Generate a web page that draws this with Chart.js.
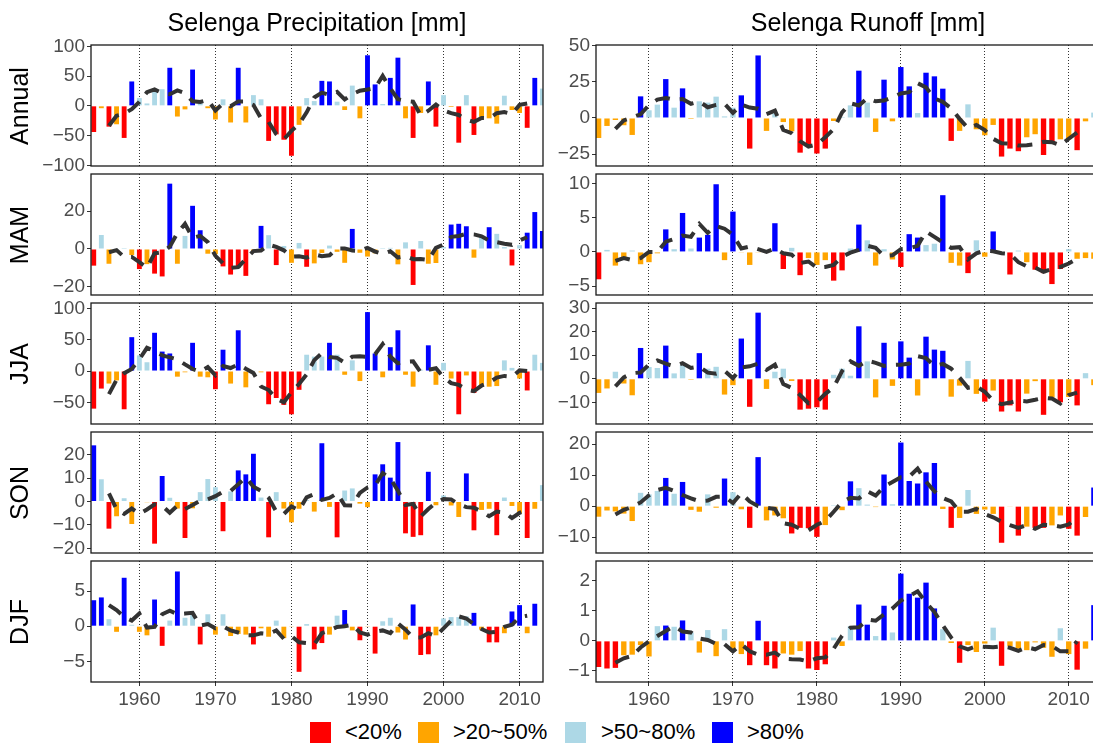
<!DOCTYPE html>
<html><head><meta charset="utf-8">
<script src="https://cdn.jsdelivr.net/npm/chart.js@4.4.1/dist/chart.umd.min.js"></script>
<style>
html,body{margin:0;padding:0;width:1093px;height:745px;overflow:hidden;background:#fff;font-family:"Liberation Sans",Arial,sans-serif;position:relative;}
canvas{position:absolute;}
.title{position:absolute;font-size:25px;color:#000;white-space:nowrap;transform:translate(-50%,-50%);}
.strip{position:absolute;font-size:25px;color:#000;white-space:nowrap;transform:translate(-50%,-50%) rotate(-90deg);}
.leg{position:absolute;top:722px;width:21px;height:21px;}
.legt{position:absolute;top:732px;transform:translateY(-50%);font-size:22px;color:#000;white-space:nowrap;}
</style></head><body>
<script>
// ---------------- data ----------------
const years = [1954,1955,1956,1957,1958,1959,1960,1961,1962,1963,1964,1965,1966,1967,1968,1969,1970,1971,1972,1973,1974,1975,1976,1977,1978,1979,1980,1981,1982,1983,1984,1985,1986,1987,1988,1989,1990,1991,1992,1993,1994,1995,1996,1997,1998,1999,2000,2001,2002,2003,2004,2005,2006,2007,2008,2009,2010,2011,2012,2013];
const maYears = [1956,1957,1958,1959,1960,1961,1962,1963,1964,1965,1966,1967,1968,1969,1970,1971,1972,1973,1974,1975,1976,1977,1978,1979,1980,1981,1982,1983,1984,1985,1986,1987,1988,1989,1990,1991,1992,1993,1994,1995,1996,1997,1998,1999,2000,2001,2002,2003,2004,2005,2006,2007,2008,2009,2010,2011];
const xTicks = [1960,1970,1980,1990,2000,2010];
const classLabels = ['<20%','>20~50%','>50~80%','>80%'];
const classColors = ['#FF0000','#FFA500','#ADD8E6','#0000FF'];
const columnTitles = ['Selenga Precipitation [mm]','Selenga Runoff [mm]'];
const rowTitles = ['Annual','MAM','JJA','SON','DJF'];

// class codes: 0 <20%, 1 >20~50%, 2 >50~80%, 3 >80%
const precAnnual = [-44,-4,-35,-31,-54,41,13,4,29,28,64,-18,-6,61,5,-4,-23,11,-28,64,-28,18,11,-59,-48,-57,-84,-32,13,8,42,41,7,-7,34,-21,85,36,3,47,81,-21,-54,-12,41,-35,18,-2,-62,18,-49,-21,-21,-30,17,-7,-12,-37,47,29];
const precAnnualCls = [0,1,0,1,0,3,2,2,2,2,3,1,1,3,2,1,1,2,1,3,1,2,2,0,0,0,0,1,2,2,3,3,2,1,2,1,3,3,2,3,3,1,0,1,3,0,2,1,0,2,0,1,1,1,2,1,1,0,3,2];
const precAnnualMA = [-33.6,-16.6,-13.2,-5.6,6.6,23,27.6,21.4,19.4,25.8,21.2,7.6,6.6,10,-7.8,4,-0.8,7.4,7.4,1.2,-21.2,-27,-47.4,-56.4,-42,-30.8,-11,14,22.2,18.2,23.4,10.8,19.6,25.4,27.4,30,50.4,29.2,11.2,8.2,7,-16,-8.2,2.2,-7.8,-12.4,-15.4,-23.2,-27,-20.6,-20.8,-12.4,-10.6,-13.8,1.6,4];

const precMAM = [-8.8,7.4,-7.8,0.3,0.5,-3.2,-10.6,-8,-13,-14.5,34.5,-7.8,6.9,22.8,9.9,-2.5,-2.8,-9.2,-13.5,-10,-14.2,-1,12.2,7.3,-8.5,1.6,-7.3,3.2,-9.4,-7.6,-2.1,1.8,-1.5,-7.3,10.6,-2,-4,-2.3,0.5,0.6,-8.1,3.5,-19,4.2,-7.8,-7.4,1,12.9,13.3,12,-4.6,6.2,11.5,8,1,-8.7,2,8.6,19.5,9.5];
const precMAMCls = [0,2,1,2,2,1,0,1,0,0,3,1,2,3,3,1,1,0,0,0,0,1,3,2,0,2,1,2,0,1,1,2,1,1,3,1,1,1,2,2,1,2,0,2,1,1,2,3,3,3,1,2,3,2,2,0,2,3,3,3];
const precMAMMA = [-1.7,-0.6,-4.2,-4.2,-6.9,-9.9,-2.3,-1.8,1.2,8.4,13.3,5.9,6.9,3.6,-3.6,-7.6,-9.9,-9.6,-5.3,-1.1,-0.8,2.3,1.1,-0.7,-4.1,-3.9,-4.6,-2.8,-3.8,-3.3,0.3,0.3,-0.8,-1,0.6,-1.4,-2.7,-1.2,-4.5,-3.8,-5.4,-5.3,-5.8,0.6,2.4,6.4,6.9,8,7.7,6.7,4.5,3.6,2.8,2.2,4.5,6.2];

const precJJA = [-60,-28,-20,-15,-61,54,25,14,61,31,28,-9,-2,45,-9,-10,-29,34,-20,65,-26,0.5,-2,-53,-43,-54,-69,-30,26,23,23,45,26,-6,17,-16,94,28,-10,38,65,-6,-25,2,41,-22,13,-12,-69,-7,-35,-25,-25,-24,17,5,-12,-31,26,13];
const precJJACls = [0,0,1,1,0,3,2,2,3,3,3,1,1,3,1,1,0,3,1,3,1,2,1,0,0,0,0,0,2,2,2,3,2,1,2,1,3,3,1,3,3,1,1,2,3,1,2,1,0,1,0,1,1,1,2,2,1,0,2,2];
const precJJAMA = [-36.8,-14,-3.4,3.4,18.6,37,31.8,25,21.8,18.6,10.6,3.2,-1,6.2,-6.8,8,4.8,10.7,3.5,-3.1,-24.7,-30.3,-44.2,-49.8,-34,-20.8,-5.4,17.4,28.6,22.2,21,13.2,23,23.4,22.6,26.8,43,23,12.4,14.8,15.4,-2,1.8,4.4,-9.8,-19.4,-22,-29.6,-32.2,-23.2,-18.4,-10.4,-7.8,-9,1,0.2];

const precSON = [24,9.5,-11.6,-6.3,1.4,-9.6,-0.2,-0.3,-18,10.9,1.6,-3,-15.6,-2.9,4,9.6,6.1,-12.7,4.3,13.3,11.6,20.4,1.7,-15.3,4,-3,-8.9,-3.1,0.6,-4.3,24.9,-2.3,-15.3,4.7,5.6,-0.9,-2.4,11.6,15.9,10.2,25.4,-13.6,-15.1,-14.4,12.7,-1.6,2.6,-1.7,-6.6,12,-12.3,-3.6,-3.1,-14.4,1.7,-1.9,-5.1,-15.6,-3.1,7];
const precSONCls = [3,2,0,1,2,1,1,1,0,3,2,1,0,1,2,2,2,0,2,3,3,3,2,0,2,1,1,1,2,1,3,1,0,2,2,1,1,3,3,3,3,0,0,0,3,1,2,1,1,3,0,1,1,0,2,1,1,0,1,2];
const precSONMA = [3.5,-3.3,-5.3,-3,-5.3,-3.4,-1.2,-1.8,-4.8,-1.8,-3.2,-1.5,0.3,0.9,2.3,4.2,4.5,7.4,10.3,6.3,4.5,1.6,-4.3,-5.3,-2.1,-3.7,1.8,3.2,0.7,1.5,3.5,-1.6,-1.7,3.7,6,6.9,12.1,9.9,4.6,-1.5,-1,-6.4,-3.2,-0.5,1.1,0.9,-1.2,-2.4,-2.7,-4.3,-6.3,-4.3,-4.6,-7.1,-4.8,-3.7];

const precDJF = [3.7,4.1,1,-0.8,6.9,0.2,-0.8,-1.3,3.8,-2.8,0.8,7.8,1.2,1.6,-2.6,1.7,-1.2,1.7,-1.4,-1.1,-1.2,-2.6,-0.3,-1.5,0.8,-1.7,-0.1,-6.5,0.3,-3.3,-2.4,-1.2,1.5,2.3,-0.6,-2,-0.1,-3.9,0.7,1.2,-0.9,-1.9,3.1,-4.1,-4,-1.3,1.1,1.3,1.3,1.4,1.9,-0.5,-2.3,-2.3,-1,2.1,3,-1,3.2,0];
const precDJFCls = [3,3,2,1,3,2,1,1,3,0,2,3,2,2,0,2,1,2,1,1,1,0,1,1,2,1,1,0,2,0,0,1,2,3,1,0,1,0,2,2,1,1,3,0,0,1,2,2,2,2,3,1,0,0,1,3,3,1,3,1];
const precDJFMA = [3,2.3,1.3,0.8,1.8,-0.2,-0.1,1.7,2.2,1.7,1.8,1.9,0.1,0.3,-0.3,0,-0.6,-0.9,-1.3,-1.3,-1,-1.1,-0.6,-1.8,-1.4,-2.3,-2.4,-2.6,-1,-0.6,-0.1,0,0.2,-0.9,-1.2,-0.8,-0.6,-1,0.4,-0.5,-1.6,-1.6,-1,-1.4,-0.3,0.8,1.4,1.1,0.3,-0.4,-0.9,-0.8,-0.1,0.2,1.3,1.5];

const runAnnual = [-13.8,-5.5,-1.4,-5,-11.7,14.9,5.3,9.2,26.8,7.1,20.4,-0.7,11.5,10.6,14.7,1.1,7.1,15.6,-21.1,43.1,-8.9,3.2,-2.8,-9.2,-23.9,-19.7,-24.5,-21.1,-2.1,0.7,8.7,32.6,10.6,-9.6,26.4,-2.3,35.1,21.8,3.4,31.2,28.7,20.2,-15.8,-8.9,9.4,-7.8,-11.9,-4.8,-26.6,-21.1,-22.9,-13.3,-11.2,-25.5,-17.4,-14.7,-14.7,-22.2,-2.3,3.7];
const runAnnualCls = [1,1,1,1,1,3,2,2,3,2,3,1,2,2,2,2,2,3,0,3,1,2,1,1,0,0,0,0,1,2,2,3,2,1,3,1,3,3,2,3,3,3,0,1,2,1,1,1,0,0,0,1,1,0,0,1,1,0,1,2];
const runAnnualMA = [-7.5,-1.7,0.4,2.5,8.9,12.7,13.8,12.6,13,9.8,11.3,7.4,9,9.8,3.5,9.2,7.2,6.4,2.7,5.1,-8.3,-10.5,-16,-19.7,-18.3,-13.3,-7.7,3.8,10.1,8.6,13.7,11.5,12,14.3,16.9,17.8,24,21.1,13.5,11.1,6.7,-0.6,-7,-4.8,-8.3,-14.4,-17.5,-17.7,-19,-18.8,-18.1,-16.4,-16.7,-18.9,-14.3,-10];

const runMAM = [-4,0.3,-2,-1.1,0.2,-1.8,-1.5,-0.2,3.3,0.4,5.7,0.5,2.1,2.5,9.9,-1.2,5.9,-0.1,-1.9,-0.1,0.1,4.2,-2.5,0.6,-3.4,-0.9,-1.9,-1.2,-4.2,-2.7,0.5,4,1.7,-2,0.4,-1.1,-2.2,2.6,2.1,1,1.2,8.3,-1.6,-2,-3.1,1.7,-0.7,3,-0.1,-3.3,0.2,-1.5,-2.6,-3.1,-4.7,-2.5,0.4,-1,-0.9,-1];
const runMAMCls = [0,2,1,1,2,1,1,1,3,2,3,2,3,3,3,1,3,1,1,1,2,3,0,2,0,1,1,1,0,0,2,3,2,1,2,1,0,3,3,2,2,3,1,1,0,2,1,3,1,0,2,1,0,0,0,0,2,1,1,1];
const runMAMMA = [-1.3,-0.9,-1.2,-0.9,0,0,1.5,1.9,2.4,2.2,4.1,2.8,3.8,3.4,2.5,0.5,0.8,0.4,0,0.5,-0.2,-0.4,-1.6,-1.4,-2.3,-2.2,-1.9,-0.7,-0.1,0.3,0.9,0.6,-0.6,-0.5,0.4,0.5,0.9,3,2.2,1.4,0.6,0.7,-1.1,-0.2,0.2,0.1,-0.2,-0.3,-1.5,-2.1,-2.3,-2.9,-2.5,-2.2,-1.7,-1];

const runJJA = [-6,-4.1,3,-2,-7,13.1,5,4.6,14.1,2.3,5.9,-0.4,10.9,4.3,5.1,-6.7,-2.7,17.1,-11.9,28.1,-4.3,3,4.3,-0.9,-13.1,-12.7,-12.1,-13.1,1.7,4.3,1.3,22.3,7.4,-7.9,15.3,-3,15.9,9,-7.1,17.9,12.4,11.9,-7.6,-2.9,7.6,-6.4,-9.7,-5,-13.9,-11.3,-13.9,-6.3,-1,-15.3,-8,-10,-7.7,-11.3,2.4,-2.7];
const runJJACls = [1,1,2,1,1,3,2,2,3,2,2,1,3,2,2,1,1,3,0,3,1,2,2,1,0,0,0,0,2,2,2,3,2,1,3,1,3,3,1,3,3,3,1,1,2,1,0,1,0,0,0,1,1,0,1,0,1,0,2,1];
const runJJAMA = [-3.2,0.6,2.4,2.7,6,7.8,6.4,5.3,6.6,4.6,5.2,2.6,2.2,3.4,0.2,4.8,5.3,6.4,3.8,6,-2.2,-3.9,-6.9,-10.4,-9.9,-6.4,-3.6,3.3,7.4,5.5,7.7,6.8,5.5,5.9,6,6.5,9.6,8.8,5.5,6.3,4.3,0.5,-3.8,-3.3,-5.5,-9.3,-10.8,-10.1,-9.3,-9.6,-8.9,-8.1,-8.4,-10.5,-6.9,-5.9];

const runSON = [-3.4,-1.4,-1.7,-2.4,-4.8,4.3,3.8,4.9,9.1,4,7.8,-1.2,-1.8,3.8,-0.5,8.9,4.5,-1,-7,15.8,-4.6,-3,-3.9,-8.8,-7,-7.1,-9.9,-6.1,0.3,-1.3,8,5.8,0.5,-0.3,10.2,0.6,20.5,8.1,7.3,10.9,13.9,-0.9,-7,-3.8,5.2,-2.5,-1.1,-2.5,-11.8,-0.2,-9.5,-6.6,-7,-7,-6.2,-3,-7.3,-9.5,-3.5,6];
const runSONCls = [1,1,1,1,1,2,2,2,3,2,3,1,1,2,1,3,2,1,0,3,1,1,1,0,0,0,0,1,2,1,3,2,2,1,3,2,3,3,3,3,3,1,0,1,2,1,1,1,0,1,0,1,0,0,1,1,0,0,1,3];
const runSONMA = [-2.7,-1.2,-0.2,1.2,3.5,5.2,5.9,4.9,3.6,2.5,1.6,1.8,3,3.1,1,4.2,1.5,0,-0.5,-0.9,-5.5,-6,-7.3,-7.8,-6,-4.8,-1.8,1.3,2.7,2.5,4.8,3.4,6.3,7.8,9.3,9.5,12.1,7.9,4.8,2.6,1.5,-1.8,-1.8,-0.9,-2.5,-3.6,-5,-6.1,-7,-6.1,-7.3,-6,-6.1,-6.6,-5.9,-3.5];

const runDJF = [-0.87,-0.92,-0.9,-0.48,-0.46,-0.14,-0.52,0.49,0.51,0.47,0.68,0.28,-0.39,0.36,-0.51,0.39,-0.37,-0.44,-0.81,0.67,-0.81,-0.92,-0.42,-0.46,-0.34,-0.92,-0.97,-0.78,0.11,-0.17,0.49,1.21,0.54,0.16,1.17,0.28,2.24,1.57,1.44,1.94,1.08,0.39,-0.07,-0.73,-0.14,-0.37,-0.09,0.44,-0.83,-0.18,-0.26,-0.31,-0.05,-0.23,-0.53,0.42,-0.44,-0.96,-0.26,1.19];
const runDJFCls = [0,0,0,1,1,1,1,2,3,2,3,2,1,2,1,2,1,1,0,3,0,0,1,1,1,0,0,0,2,1,2,3,3,2,3,2,3,3,3,3,3,2,1,0,1,1,1,2,0,1,1,1,1,1,1,2,1,0,1,3];
const runDJFMA = [-0.73,-0.58,-0.5,-0.22,-0.02,0.16,0.33,0.49,0.31,0.28,0.08,0.03,-0.1,-0.11,-0.35,-0.11,-0.35,-0.46,-0.46,-0.39,-0.59,-0.61,-0.62,-0.69,-0.58,-0.55,-0.26,0.17,0.44,0.45,0.71,0.67,0.88,1.08,1.34,1.49,1.65,1.28,0.96,0.52,0.11,-0.18,-0.28,-0.18,-0.2,-0.21,-0.18,-0.23,-0.33,-0.21,-0.28,-0.14,-0.17,-0.35,-0.35,-0.01];

// y-axis tick labels per panel
const ytPrecAnnual = [-100,-50,0,50,100];
const ytPrecMAM = [-20,0,20];
const ytPrecJJA = [-50,0,50,100];
const ytPrecSON = [-20,-10,0,10,20];
const ytPrecDJF = [-5,0,5];
const ytRunAnnual = [-25,0,25,50];
const ytRunMAM = [-5,0,5,10];
const ytRunJJA = [-10,0,10,20,30];
const ytRunSON = [-10,0,10,20];
const ytRunDJF = [-1,0,1,2];

// ---------------- layout / style ----------------
const FONT = '"Liberation Sans", Arial, sans-serif';
const rowTops = [45, 174, 303, 432, 561];
const PLOT_H = 121;
const colGeom = [
  {canvasLeft: 0, plotLeft: 91, plotRight: 543, xMin: 1953.64, xMax: 2013.08},
  {canvasLeft: 548, plotLeft: 596, plotRight: 1140, xMin: 1953.69, xMax: 2018.49}
];
const panels = [
  {col:0,row:0,v:precAnnual,c:precAnnualCls,m:precAnnualMA,yt:ytPrecAnnual,min:-101.2,max:102.3},
  {col:0,row:1,v:precMAM,c:precMAMCls,m:precMAMMA,yt:ytPrecMAM,min:-24.3,max:39.6},
  {col:0,row:2,v:precJJA,c:precJJACls,m:precJJAMA,yt:ytPrecJJA,min:-84.5,max:108.5},
  {col:0,row:3,v:precSON,c:precSONCls,m:precSONMA,yt:ytPrecSON,min:-22,max:29.7},
  {col:0,row:4,v:precDJF,c:precDJFCls,m:precDJFMA,yt:ytPrecDJF,min:-7.95,max:9.29},
  {col:1,row:0,v:runAnnual,c:runAnnualCls,m:runAnnualMA,yt:ytRunAnnual,min:-33.1,max:50.3},
  {col:1,row:1,v:runMAM,c:runMAMCls,m:runMAMMA,yt:ytRunMAM,min:-6.3,max:11.4},
  {col:1,row:2,v:runJJA,c:runJJACls,m:runJJAMA,yt:ytRunJJA,min:-19.2,max:32.2},
  {col:1,row:3,v:runSON,c:runSONCls,m:runSONMA,yt:ytRunSON,min:-15.1,max:23.9},
  {col:1,row:4,v:runDJF,c:runDJFCls,m:runDJFMA,yt:ytRunDJF,min:-1.37,max:2.66}
];

const fmtTick = v => (v < 0 ? '\u2212' + String(-v) : String(v));

const framePlugin = {
  id: 'frame',
  afterDraw(chart) {
    const {ctx, chartArea: a} = chart;
    ctx.save();
    ctx.strokeStyle = '#1a1a1a';
    ctx.lineWidth = 1.3;
    ctx.strokeRect(a.left, a.top, a.right - a.left, a.bottom - a.top);
    ctx.restore();
  }
};

function makePanel(p) {
  const g = colGeom[p.col];
  const bottom = p.row === 4;
  const padT = 16, padB = bottom ? 6 : 16, padR = 6;
  const xH = bottom ? 30 : 0;
  const cv = document.createElement('canvas');
  const w = g.plotRight - g.canvasLeft + padR;
  const h = padT + PLOT_H + xH + padB;
  cv.width = w; cv.height = h;
  cv.style.left = g.canvasLeft + 'px';
  cv.style.top = (rowTops[p.row] - padT) + 'px';
  cv.style.width = w + 'px'; cv.style.height = h + 'px';
  document.body.appendChild(cv);
  const yW = g.plotLeft - g.canvasLeft;
  new Chart(cv, {
    type: 'bar',
    data: {
      datasets: [
        {
          type: 'line',
          data: maYears.map((yr, i) => ({x: yr, y: p.m[i]})),
          borderColor: '#333333', borderWidth: 4, borderDash: [15, 10],
          borderCapStyle: 'butt', pointRadius: 0, tension: 0, fill: false,
          order: 0, clip: 0
        },
        {
          type: 'bar',
          data: years.map((yr, i) => ({x: yr, y: p.v[i]})),
          backgroundColor: p.c.map(k => classColors[k]),
          borderWidth: 0, barPercentage: 0.64, categoryPercentage: 1,
          order: 1, clip: 0
        }
      ]
    },
    options: {
      responsive: false, animation: false, devicePixelRatio: 1, events: [],
      layout: {padding: {top: padT, bottom: padB, left: 0, right: padR}},
      plugins: {legend: {display: false}, tooltip: {enabled: false}, title: {display: false}},
      scales: {
        x: {
          type: 'linear', min: g.xMin, max: g.xMax, offset: false,
          afterBuildTicks: s => { s.ticks = xTicks.map(v => ({value: v})); },
          afterFit: s => { s.height = xH; },
          grid: {display: true, offset: false, drawOnChartArea: true, drawTicks: bottom, tickLength: 4,
                 color: '#333333', tickColor: '#333333', lineWidth: 1},
          border: {display: false, dash: [1, 2]},
          ticks: {display: bottom, color: '#4D4D4D', font: {family: FONT, size: 19}, padding: 2,
                  maxRotation: 0, autoSkip: false, callback: v => String(v)}
        },
        y: {
          min: p.min, max: p.max,
          afterBuildTicks: s => { s.ticks = p.yt.map(v => ({value: v})); },
          afterFit: s => { s.width = yW; },
          grid: {display: true, drawOnChartArea: false, drawTicks: true, tickLength: 4,
                 tickColor: '#333333', color: '#333333', lineWidth: 1},
          border: {display: false},
          ticks: {color: '#4D4D4D', font: {family: FONT, size: 19}, padding: 2, callback: fmtTick}
        }
      }
    },
    plugins: [framePlugin]
  });
}
panels.forEach(makePanel);

// titles, strip labels, legend
function addDiv(cls, text, left, top) {
  const d = document.createElement('div');
  d.className = cls; d.textContent = text;
  d.style.left = left + 'px'; d.style.top = top + 'px';
  document.body.appendChild(d);
  return d;
}
addDiv('title', columnTitles[0], 317, 22);
addDiv('title', columnTitles[1], 868, 22);
rowTitles.forEach((t, i) => addDiv('strip', t, 19, rowTops[i] + PLOT_H / 2));
const legSquareX = [310, 418, 565, 712];
const legTextX = [345, 453, 601, 747];
classLabels.forEach((t, i) => {
  const s = addDiv('leg', '', legSquareX[i], 722);
  s.style.background = classColors[i];
  addDiv('legt', t, legTextX[i], 732);
});
</script>
</body></html>
